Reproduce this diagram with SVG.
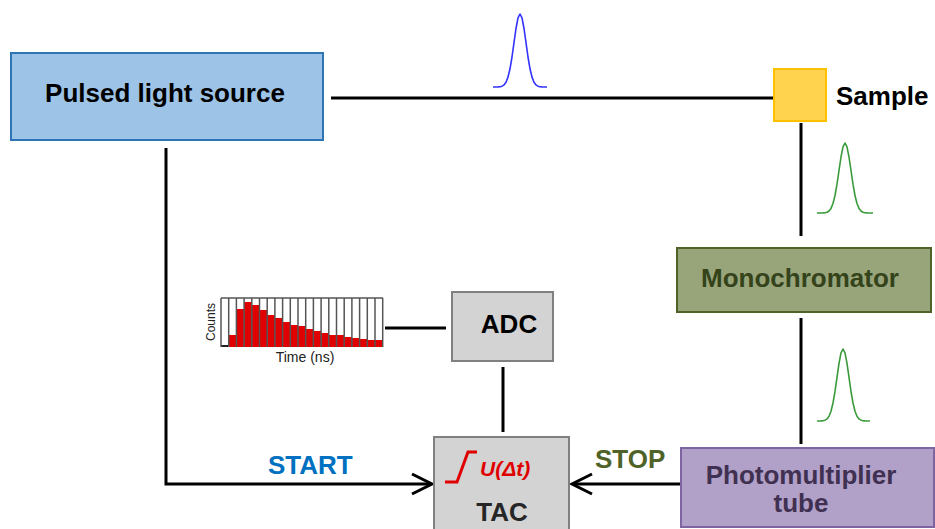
<svg xmlns="http://www.w3.org/2000/svg" width="935" height="529" viewBox="0 0 935 529">
  <style>
    .lbl { font-family: "Liberation Sans", Arial, sans-serif; font-weight: bold; font-size: 26px; }
    .wire { fill: none; stroke: #000; stroke-width: 3; }
    .pulse { fill: none; stroke-width: 1.6; stroke-linejoin: round; }
    .grey { fill: #d3d3d3; stroke: #808080; stroke-width: 2; }
  </style>
  <rect width="935" height="529" fill="#fff"/>

  <!-- connectors -->
  <g id="connectors">
    <line class="wire" x1="331" y1="98" x2="773" y2="98"/>
    <line class="wire" x1="801" y1="123" x2="801" y2="236"/>
    <line class="wire" x1="801" y1="318" x2="801" y2="444"/>
    <polyline class="wire" points="166,148 166,484 431,484"/>
    <polyline class="wire" points="412,474 432,484 412,494"/>
    <line class="wire" x1="681" y1="484" x2="573" y2="484"/>
    <polyline class="wire" points="592,474 572,484 592,494"/>
    <line class="wire" x1="503" y1="367" x2="503" y2="432"/>
    <line class="wire" x1="385" y1="328" x2="446" y2="328"/>
  </g>

  <!-- light pulses -->
  <g id="pulses">
    <polyline class="pulse" stroke="#3333ff" points="493,87 498,86.9 500,86.7 502,86.2 504,84.9 506,82.2 508,77.1 510,68.8 512,57 514,42.7 516,28.5 518,17.9 520,14 522,17.9 524,28.5 526,42.7 528,57 530,68.8 532,77.1 534,82.2 536,84.9 538,86.2 540,86.7 542,86.9 547,87"/>
    <polyline class="pulse" stroke="#3a9a3a" points="817,213 823,212.9 825,212.7 827,212.2 829,211 831,208.4 833,203.5 835,195.5 837,184.2 839,170.5 841,157 843,146.8 845,143 847,146.8 849,157 851,170.5 853,184.2 855,195.5 857,203.5 859,208.4 861,211 863,212.2 865,212.7 867,212.9 873,213"/>
    <polyline class="pulse" stroke="#3a9a3a" points="817,421 821,420.9 823,420.7 825,420.2 827,418.9 829,416.3 831,411.3 833,403 835,391.4 837,377.3 839,363.3 841,352.9 843,349 845,352.9 847,363.3 849,377.3 851,391.4 853,403 855,411.3 857,416.3 859,418.9 861,420.2 863,420.7 865,420.9 870,421"/>
  </g>

  <g id="pulsed-light-source">
    <rect x="11" y="53" width="312" height="87" fill="#9dc3e6" stroke="#2e75b6" stroke-width="2"/>
    <text class="lbl" x="165" y="102" text-anchor="middle" fill="#000">Pulsed light source</text>
  </g>

  <g id="sample">
    <rect x="774" y="69" width="52" height="52" fill="#ffd34e" stroke="#ffc000" stroke-width="2"/>
    <text class="lbl" x="836" y="105" fill="#000">Sample</text>
  </g>

  <g id="monochromator">
    <rect x="677" y="248" width="254" height="64" fill="#98a57b" stroke="#4f6228" stroke-width="2"/>
    <text class="lbl" x="800" y="287" text-anchor="middle" fill="#34431a">Monochromator</text>
  </g>

  <g id="photomultiplier">
    <rect x="681" y="448" width="253" height="79" fill="#b1a0c7" stroke="#7f64a2" stroke-width="2"/>
    <text class="lbl" x="801" y="484" text-anchor="middle" fill="#403152">Photomultiplier</text>
    <text class="lbl" x="801" y="512" text-anchor="middle" fill="#403152">tube</text>
  </g>

  <g id="adc">
    <rect class="grey" x="452" y="292" width="101" height="69"/>
    <text class="lbl" x="509" y="333" text-anchor="middle" fill="#000">ADC</text>
  </g>

  <g id="tac">
    <rect class="grey" x="434" y="437" width="135" height="100"/>
    <polyline points="445,482 457,482 468,452 477,452" fill="none" stroke="#e00000" stroke-width="3"/>
    <text x="480" y="476" font-family="'Liberation Sans', Arial, sans-serif" font-weight="bold" font-style="italic" font-size="21" fill="#e00000">U(Δt)</text>
    <text class="lbl" x="502" y="521" text-anchor="middle" fill="#262626">TAC</text>
  </g>

  <text class="lbl" x="268" y="474" fill="#0070c0">START</text>
  <text class="lbl" x="595" y="468" fill="#4f6228">STOP</text>

  <!-- decay histogram -->
  <g id="histogram">
    <rect x="221" y="298" width="162" height="49" fill="#fff"/>
    <g fill="#e00000">
      <rect x="221" y="345" width="7.7" height="2" fill="#222"/>
      <rect x="228.7" y="335" width="7.7" height="12"/>
      <rect x="236.4" y="309" width="7.7" height="38"/>
      <rect x="244.1" y="302" width="7.7" height="45"/>
      <rect x="251.8" y="305" width="7.7" height="42"/>
      <rect x="259.5" y="310" width="7.7" height="37"/>
      <rect x="267.2" y="315" width="7.7" height="32"/>
      <rect x="274.9" y="318" width="7.7" height="29"/>
      <rect x="282.6" y="322" width="7.7" height="25"/>
      <rect x="290.3" y="325" width="7.7" height="22"/>
      <rect x="298" y="326" width="7.7" height="21"/>
      <rect x="305.7" y="329" width="7.7" height="18"/>
      <rect x="313.4" y="331" width="7.7" height="16"/>
      <rect x="321.1" y="333" width="7.7" height="14"/>
      <rect x="328.8" y="335" width="7.7" height="12"/>
      <rect x="336.5" y="335" width="7.7" height="12"/>
      <rect x="344.2" y="337" width="7.7" height="10"/>
      <rect x="351.9" y="338" width="7.7" height="9"/>
      <rect x="359.6" y="339" width="7.7" height="8"/>
      <rect x="367.3" y="340" width="7.7" height="7"/>
      <rect x="375" y="340" width="7.7" height="7"/>
    </g>
    <g stroke="#555" stroke-width="1.5">
      <line x1="221" y1="298" x2="383" y2="298"/>
      <line x1="221" y1="298" x2="221" y2="347"/>
      <line x1="228.7" y1="298" x2="228.7" y2="347"/>
      <line x1="236.4" y1="298" x2="236.4" y2="347"/>
      <line x1="244.1" y1="298" x2="244.1" y2="347"/>
      <line x1="251.8" y1="298" x2="251.8" y2="347"/>
      <line x1="259.5" y1="298" x2="259.5" y2="347"/>
      <line x1="267.2" y1="298" x2="267.2" y2="347"/>
      <line x1="274.9" y1="298" x2="274.9" y2="347"/>
      <line x1="282.6" y1="298" x2="282.6" y2="347"/>
      <line x1="290.3" y1="298" x2="290.3" y2="347"/>
      <line x1="298" y1="298" x2="298" y2="347"/>
      <line x1="305.7" y1="298" x2="305.7" y2="347"/>
      <line x1="313.4" y1="298" x2="313.4" y2="347"/>
      <line x1="321.1" y1="298" x2="321.1" y2="347"/>
      <line x1="328.8" y1="298" x2="328.8" y2="347"/>
      <line x1="336.5" y1="298" x2="336.5" y2="347"/>
      <line x1="344.2" y1="298" x2="344.2" y2="347"/>
      <line x1="351.9" y1="298" x2="351.9" y2="347"/>
      <line x1="359.6" y1="298" x2="359.6" y2="347"/>
      <line x1="367.3" y1="298" x2="367.3" y2="347"/>
      <line x1="375" y1="298" x2="375" y2="347"/>
      <line x1="382.7" y1="298" x2="382.7" y2="347"/>
    </g>
    <text x="215" y="322" transform="rotate(-90 215 322)" text-anchor="middle" font-family="'Liberation Sans', Arial, sans-serif" font-size="12" fill="#222">Counts</text>
    <text x="305" y="362" text-anchor="middle" font-family="'Liberation Sans', Arial, sans-serif" font-size="14" fill="#222">Time (ns)</text>
  </g>
</svg>
